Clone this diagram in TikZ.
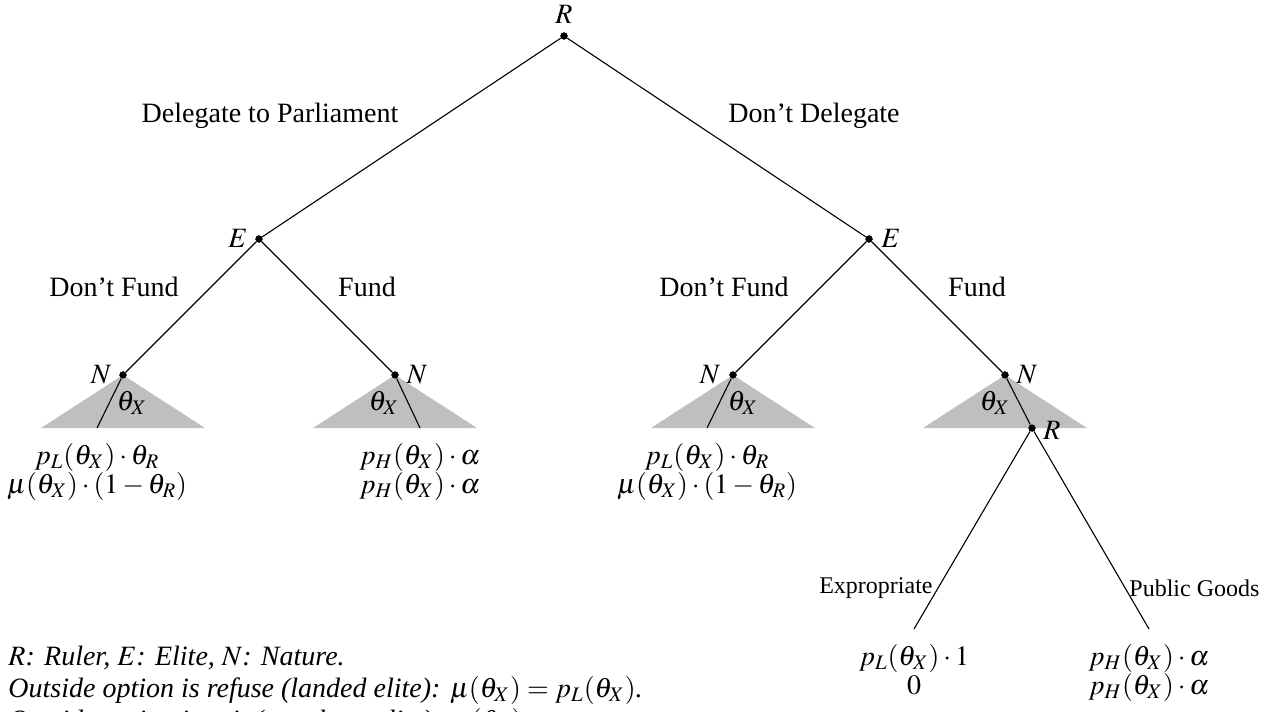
\documentclass[tikz,border=0pt]{standalone}
\usepackage{mathptmx}
\usepackage{fontspec}
\setmainfont{Liberation Serif}
\begin{document}
\begin{tikzpicture}[x=0.5pt,y=-0.5pt,
  dot/.style={circle,fill=black,inner sep=0pt,minimum size=3.6pt},
  edge/.style={line width=0.55pt,black},
  lbl/.style={inner sep=0pt,font=\fontsize{14}{14.5}\selectfont},
  small/.style={inner sep=0pt,font=\fontsize{12}{13}\selectfont},
  pay/.style={lbl,align=center},
  tri/.style={fill=black!25}]
\clip (0,0) rectangle (1270,712);
% dots
\node[dot] (R0) at (564,36) {};
\node[dot] (E1) at (259,239) {};
\node[dot] (E2) at (869,239) {};
\node[dot] (N1) at (123,375) {};
\node[dot] (N2) at (395,375) {};
\node[dot] (N3) at (733,375) {};
\node[dot] (N4) at (1005,375) {};
\node[dot] (R2) at (1032,428) {};
\coordinate (L1) at (97,428);
\coordinate (L2) at (420,428);
\coordinate (L3) at (707,428);
\coordinate (T1) at (914,629);
\coordinate (T2) at (1149,629);
% nature triangles
\fill[tri] (N1.center) -- ++(-82,53) -- ++(164,0) -- cycle;
\fill[tri] (N2.center) -- ++(-82,53) -- ++(164,0) -- cycle;
\fill[tri] (N3.center) -- ++(-82,53) -- ++(164,0) -- cycle;
\fill[tri] (N4.center) -- ++(-82,53) -- ++(164,0) -- cycle;
% edges
\draw[edge] (R0) -- (E1);
\draw[edge] (R0) -- (E2);
\draw[edge] (E1) -- (N1);
\draw[edge] (E1) -- (N2);
\draw[edge] (E2) -- (N3);
\draw[edge] (E2) -- (N4);
\draw[edge] (N1) -- (L1);
\draw[edge] (N2) -- (L2);
\draw[edge] (N3) -- (L3);
\draw[edge] (N4) -- (R2);
\draw[edge] (R2) -- (T1);
\draw[edge] (R2) -- (T2);
% redraw dots on top
\foreach \n in {R0,E1,E2,N1,N2,N3,N4,R2} \fill (\n.center) circle (1.8pt);
% player labels
\node[lbl] (lR0) at (564,14) {$R$};
\node[lbl] (lE1) at (238,238) {$E$};
\node[lbl] (lE2) at (891,238) {$E$};
\node[lbl] (lN1) at (101,375) {$N$};
\node[lbl] (lN2) at (417,375) {$N$};
\node[lbl] (lN3) at (710,375) {$N$};
\node[lbl] (lN4) at (1027,375) {$N$};
\node[lbl] (lR2) at (1052,430) {$R$};
% theta labels
\node[lbl] (t1) at (132,403) {$\theta_X$};
\node[lbl] (t2) at (384,403) {$\theta_X$};
\node[lbl] (t3) at (743,403) {$\theta_X$};
\node[lbl] (t4) at (995,403) {$\theta_X$};
% action labels
\node[lbl] (a1) at (270,116) {Delegate to Parliament};
\node[lbl] (a2) at (814,116) {Don’t Delegate};
\node[lbl] (a3) at (114,287) {Don’t Fund};
\node[lbl] (a4) at (367,287) {Fund};
\node[lbl] (a5) at (724,287) {Don’t Fund};
\node[lbl] (a6) at (977,287) {Fund};
\node[small,anchor=east] (a7) at (933,588) {Expropriate};
\node[small,anchor=west] (a8) at (1129,588) {Public Goods};
% payoffs
\node[pay,anchor=north] (p1) at ([yshift=-7.5pt]L1) {$p_L(\theta_X)\cdot\theta_R$\\$\mu(\theta_X)\cdot(1-\theta_R)$};
\node[pay,anchor=north] (p2) at ([yshift=-7.5pt]L2) {$p_H(\theta_X)\cdot\alpha$\\$p_H(\theta_X)\cdot\alpha$};
\node[pay,anchor=north] (p3) at ([yshift=-7.5pt]L3) {$p_L(\theta_X)\cdot\theta_R$\\$\mu(\theta_X)\cdot(1-\theta_R)$};
\node[pay,anchor=north] (p4) at ([yshift=-7.5pt]T1) {$p_L(\theta_X)\cdot 1$\\$0$};
\node[pay,anchor=north] (p5) at ([yshift=-7.5pt]T2) {$p_H(\theta_X)\cdot\alpha$\\$p_H(\theta_X)\cdot\alpha$};
% legend
\node[lbl,anchor=base west] (g1) at (8,665) {\itshape $R$: Ruler, $E$: Elite, $N$: Nature.};
\node[lbl,anchor=base west] (g2) at (8,697) {\itshape Outside option is refuse (landed elite): $\mu(\theta_X)=p_L(\theta_X)$.};
\node[lbl,anchor=base west] (g3) at (8,729) {\itshape Outside option is exit (merchant elite): $\mu(\theta_X)=\sigma$.};
\end{tikzpicture}
\end{document}
